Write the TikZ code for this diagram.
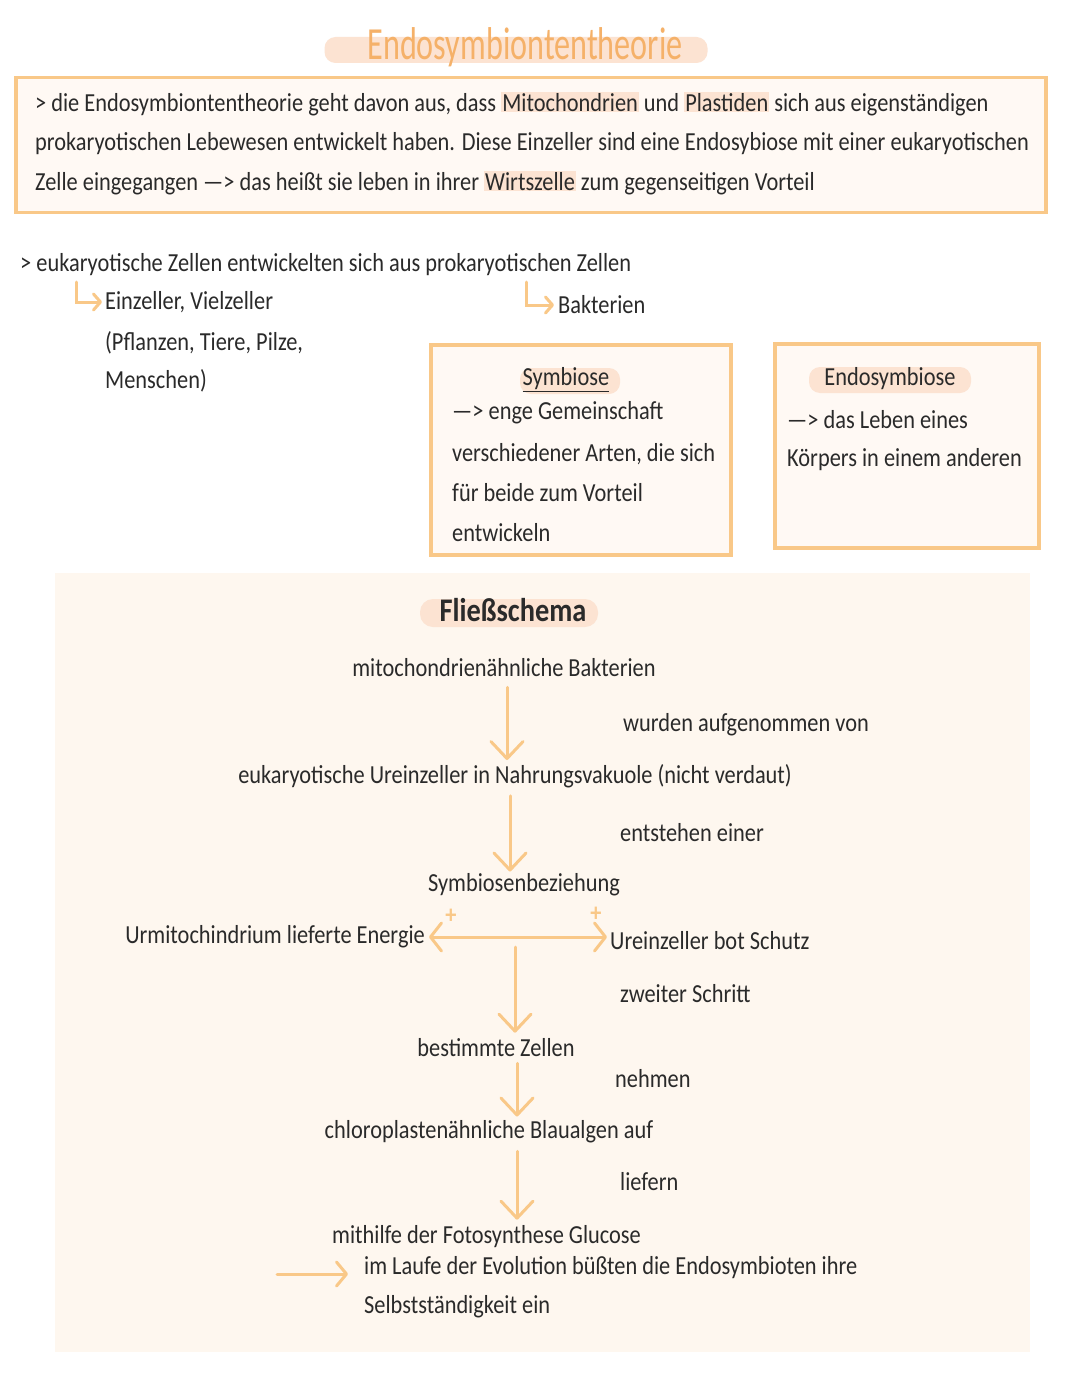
\documentclass[tikz,border=0pt]{standalone}
\usepackage{fontspec}
\setmainfont[FakeStretch=0.86]{Carlito}
\newfontfamily\titlefont[FakeStretch=0.70]{Carlito}
\usetikzlibrary{arrows.meta}
\definecolor{ora}{HTML}{F9C888}
\definecolor{titleora}{HTML}{F5B169}
\definecolor{peach}{HTML}{FCE3D2}
\definecolor{cream}{HTML}{FFF9F4}
\definecolor{flowbg}{HTML}{FEF7EF}
\definecolor{ink}{HTML}{2A2A2A}
\newcommand{\hlw}[1]{{\setlength{\fboxsep}{1pt}\colorbox{peach}{#1}}}
\begin{document}
\begin{tikzpicture}[x=1pt,y=-1pt,
  txt/.style={font=\fontsize{26}{30}\selectfont, text=ink, inner sep=0pt},
  lt/.style={txt, anchor=west},
  obox/.style={draw=ora, line width=3.5pt, fill=cream, inner sep=0pt},
  pill/.style={fill=peach, rounded corners=11pt, inner sep=0pt},
  flowarrow/.style={draw=ora, line width=3pt, line cap=round,
    -{Straight Barb[length=17pt,width=32pt,line width=3pt,round]}},
  smallarrow/.style={draw=ora, line width=3pt, line cap=round,
    -{Straight Barb[length=7pt,width=16pt,line width=3pt,round]}},
  dblarrow/.style={draw=ora, line width=3pt, line cap=round,
    {Straight Barb[length=11pt,width=28pt,line width=3pt,round]}-{Straight Barb[length=11pt,width=28pt,line width=3pt,round]}},
  plus/.style={font=\fontsize{26}{26}\selectfont\bfseries, text=ora, inner sep=0pt}
]
\useasboundingbox[fill=white] (0,0) rectangle (1080,1394);

% ---------- title ----------
\node[pill, minimum width=383pt, minimum height=26pt] (titlepill) at (516,50) {};
\node[font=\titlefont\fontsize{46}{50}\selectfont, text=titleora, inner sep=0pt] (title) at (525,47) {Endosymbiontentheorie};

% ---------- intro box ----------
\node[obox, minimum width=1030pt, minimum height=135pt] (box1) at (531,145) {};
\node[lt] (l1) at (35,104) {> die Endosymbiontentheorie geht davon aus, dass \hlw{Mitochondrien} und \hlw{Plastiden} sich aus eigenständigen};
\node[lt] (l2) at (35,144) {prokaryotischen Lebewesen entwickelt haben. Diese Einzeller sind eine Endosybiose mit einer eukaryotischen};
\node[lt] (l3) at (35,183) {Zelle eingegangen —> das heißt sie leben in ihrer \hlw{Wirtszelle} zum gegenseitigen Vorteil};

% ---------- eukaryotic cells ----------
\node[lt] (e1) at (20,265) {> eukaryotische Zellen entwickelten sich aus prokaryotischen Zellen};
\node[lt] (e2) at (105,302) {Einzeller, Vielzeller};
\node[lt] (e3) at (105,343) {(Pflanzen, Tiere, Pilze,};
\node[lt] (e4) at (105,381) {Menschen)};
\node[lt] (bak) at (558,305) {Bakterien};
\coordinate (c1) at (76,282);
\coordinate (c2) at (526,282);
\draw[smallarrow] (c1) |- ([xshift=-3pt]e2.west);
\draw[smallarrow] (c2) |- ([xshift=-4pt]bak.west);

% ---------- Symbiose box ----------
\node[obox, minimum width=300pt, minimum height=210pt] (box2) at (581,450) {};
\node[pill, minimum width=100pt, minimum height=26pt] (p2) at (570,381) {};
\node[txt] (s0) at (566,380) {\underline{Symbiose}};
\node[lt] (s1) at (452,413) {—> enge Gemeinschaft};
\node[lt] (s2) at (452,454) {verschiedener Arten, die sich};
\node[lt] (s3) at (452,493) {für beide zum Vorteil};
\node[lt] (s4) at (452,533) {entwickeln};

% ---------- Endosymbiose box ----------
\node[obox, minimum width=264pt, minimum height=204pt] (box3) at (907,446) {};
\node[pill, minimum width=162pt, minimum height=26pt] (p3) at (890,380) {};
\node[txt] (d0) at (890,379) {Endosymbiose};
\node[lt] (d1) at (787,420) {—> das Leben eines};
\node[lt] (d2) at (787,460) {Körpers in einem anderen};

% ---------- flow chart ----------
\fill[flowbg] (55,573) rectangle (1030,1352);
\node[pill, minimum width=178pt, minimum height=28pt, rounded corners=13pt] (p4) at (509,613) {};
\node[font=\fontsize{33}{36}\selectfont\bfseries, text=ink, inner sep=0pt] (fs) at (513,610) {Fließschema};

\node[txt] (n1) at (504,668) {mitochondrienähnliche Bakterien};
\node[txt] (n2) at (515,776) {eukaryotische Ureinzeller in Nahrungsvakuole (nicht verdaut)};
\node[txt] (n3) at (524,885) {Symbiosenbeziehung};
\node[txt, anchor=east] (nL) at (425,937) {Urmitochindrium lieferte Energie};
\node[txt, anchor=west] (nR) at (610,941) {Ureinzeller bot Schutz};
\node[txt] (n4) at (496,1048) {bestimmte Zellen};
\node[txt] (n5) at (489,1132) {chloroplastenähnliche Blaualgen auf};
\node[lt] (n6) at (332,1237) {mithilfe der Fotosynthese Glucose};
\node[lt] (n7) at (364,1268) {im Laufe der Evolution büßten die Endosymbioten ihre};
\node[lt] (n8) at (364,1307) {Selbstständigkeit ein};

\node[lt] (t1) at (623,725) {wurden aufgenommen von};
\node[lt] (t2) at (620,833) {entstehen einer};
\node[lt] (t3) at (620,994) {zweiter Schritt};
\node[lt] (t4) at (615,1079) {nehmen};
\node[lt] (t5) at (620,1182) {liefern};

\node[plus] (pl1) at (451,916) {+};
\node[plus] (pl2) at (596,914) {+};

\coordinate (x1) at (507,0);
\coordinate (x2) at (510,0);
\coordinate (x3) at (515,0);
\coordinate (x4) at (517,0);
\draw[flowarrow, shorten <=10pt, shorten >=4pt] (n1.south -| x1) -- (n2.north -| x1);
\draw[flowarrow, shorten <=8pt, shorten >=2pt] (n2.south -| x2) -- (n3.north -| x2);
\draw[dblarrow, shorten <=4pt, shorten >=3pt] (nL.east) -- (nL.east -| nR.west);
\draw[flowarrow, shorten <=10pt, shorten >=6pt] (nL.east -| x3) -- (n4.north -| x3);
\draw[flowarrow, shorten <=6pt, shorten >=4pt] (n4.south -| x4) -- (n5.north -| x4);
\draw[flowarrow, shorten <=8pt, shorten >=6pt] (n5.south -| x4) -- (n6.north -| x4);
\coordinate (ev) at (277,1274);
\draw[flowarrow, -{Straight Barb[length=10pt,width=24pt,line width=3pt,round]}, shorten >=16pt] (ev) -- (ev -| n7.west);
\end{tikzpicture}
\end{document}
